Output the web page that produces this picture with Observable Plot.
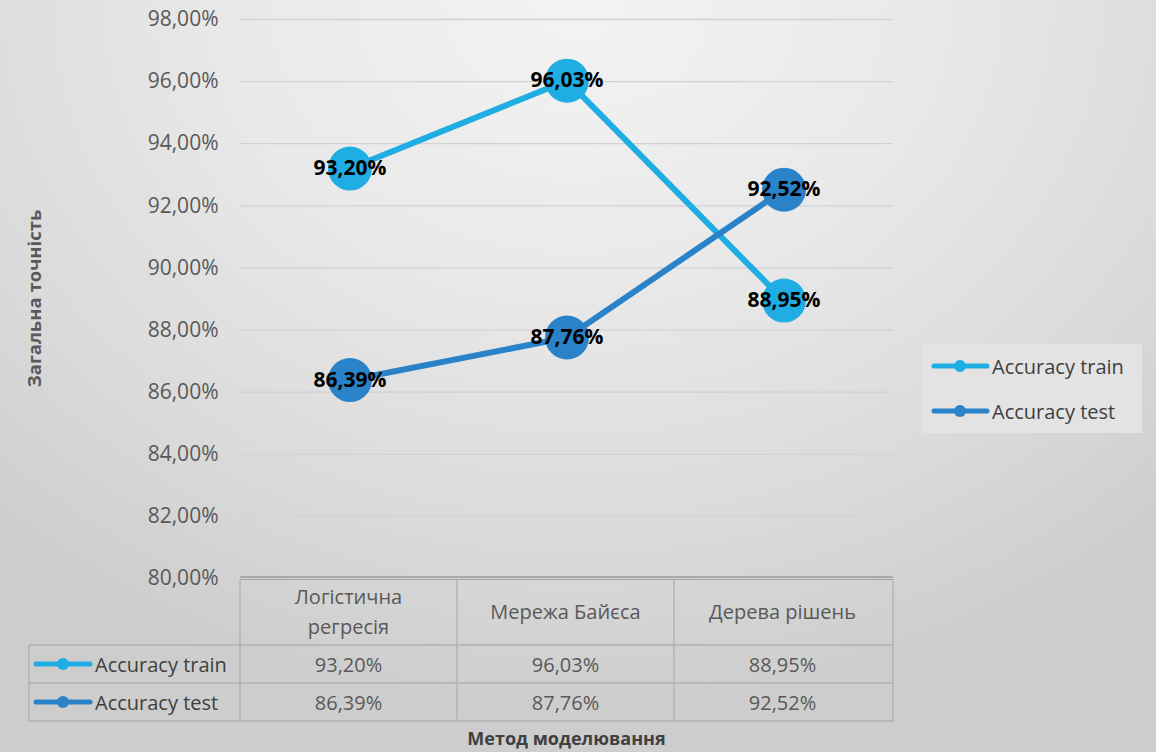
<!DOCTYPE html>
<html>
<head>
<meta charset="utf-8">
<script src="https://cdn.jsdelivr.net/npm/d3@7"></script>
<script src="https://cdn.jsdelivr.net/npm/@observablehq/plot@0.6"></script>
<style>
  html, body { margin: 0; padding: 0; }
  body {
    width: 1156px; height: 752px; overflow: hidden;
    background: radial-gradient(ellipse 75% 95% at 50% 0%, #f3f3f3 0%, #e9e9e9 40%, #dadada 75%, #cdcdcd 100%);
    font-family: "Open Sans", Lato, sans-serif;
  }
</style>
</head>
<body>
<div id="chart"></div>
<script>
const categories = ["Логістична регресія", "Мережа Байєса", "Дерева рішень"];
const categoryLines = [["Логістична", "регресія"], ["Мережа Байєса"], ["Дерева рішень"]];
const seriesNames = ["Accuracy train", "Accuracy test"];
const trainValues = [93.20, 96.03, 88.95];
const testValues = [86.39, 87.76, 92.52];
const yTicks = [80, 82, 84, 86, 88, 90, 92, 94, 96, 98];
const colors = ["#20ade3", "#2a82c8"];
const yTitle = "Загальна точність";
const xTitle = "Метод моделювання";

const fmt = v => v.toFixed(2).replace(".", ",") + "%";
const seriesValues = [trainValues, testValues];
const data = seriesNames.flatMap((s, si) => categories.map((c, ci) => ({series: s, cat: c, value: seriesValues[si][ci]})));

const marks = [
  Plot.ruleY(yTicks.filter(d => d > 80), {stroke: "#d2d2d2", strokeWidth: 1.3})
];
seriesNames.forEach((s, si) => {
  const d = data.filter(r => r.series === s);
  marks.push(Plot.line(d, {x: "cat", y: "value", stroke: colors[si], strokeWidth: 6}));
  marks.push(Plot.dot(d, {x: "cat", y: "value", r: 22, fill: colors[si], stroke: "none"}));
});
seriesNames.forEach((s, si) => {
  const d = data.filter(r => r.series === s);
  marks.push(Plot.text(d, {x: "cat", y: "value", text: r => fmt(r.value), fill: "black", fontWeight: "bold", fontSize: 21}));
});
marks.push(Plot.axisY({ticks: yTicks, tickFormat: fmt, tickSize: 0, tickPadding: 22, fontSize: 21, fill: "#595959", label: null}));

const plot = Plot.plot({
  width: 1156, height: 752,
  marginLeft: 240, marginRight: 263, marginTop: 19, marginBottom: 174,
  style: {background: "transparent", fontFamily: "'Open Sans', Lato, sans-serif", overflow: "visible"},
  x: {type: "band", domain: categories, padding: 0, axis: null},
  y: {domain: [80, 98]},
  marks
});
document.getElementById("chart").appendChild(plot);

// Data table and legend, positioned with the plot's own scales
const xs = plot.scale("x");
const ys = plot.scale("y");
const bw = xs.bandwidth;
const x0 = xs.range[0];
const x1 = xs.range[1];
const colStart = c => x0 + categories.indexOf(c) * bw;
const svg = d3.select(plot);
const g = svg.append("g").attr("font-family", "'Open Sans', Lato, sans-serif").attr("text-anchor", "start");
const yBase = ys.apply(80);
const headerH = 67, rowH = 38;
const leftX = 29;
const gridColor = "#b0b0b0";
const fs = 20;

// baseline (axis) line
g.append("line").attr("x1", x0).attr("x2", x1).attr("y1", yBase - 1).attr("y2", yBase - 1).attr("stroke", "#7f7f7f").attr("stroke-width", 1.2);
g.append("line").attr("x1", x0).attr("x2", x1).attr("y1", yBase + 1.5).attr("y2", yBase + 1.5).attr("stroke", "#a0a0a0").attr("stroke-width", 1.2);

// vertical lines
const vLines = categories.map(colStart).concat([x1]);
vLines.forEach(x => {
  g.append("line").attr("x1", x).attr("x2", x).attr("y1", yBase + 1).attr("y2", yBase + headerH + 2 * rowH).attr("stroke", gridColor).attr("stroke-width", 1.3);
});
g.append("line").attr("x1", leftX).attr("x2", leftX).attr("y1", yBase + headerH).attr("y2", yBase + headerH + 2 * rowH).attr("stroke", gridColor).attr("stroke-width", 1.3);
[0, 1, 2].forEach(i => {
  const y = yBase + headerH + i * rowH;
  g.append("line").attr("x1", leftX).attr("x2", x1).attr("y1", y).attr("y2", y).attr("stroke", gridColor).attr("stroke-width", 1.3);
});

// header text
categories.forEach((c, ci) => {
  const cx = colStart(c) + bw / 2;
  const lines = categoryLines[ci];
  const lh = 30;
  const cy = yBase + headerH / 2;
  lines.forEach((t, li) => {
    g.append("text").attr("x", cx).attr("y", cy + (li - (lines.length - 1) / 2) * lh)
      .attr("text-anchor", "middle").attr("dominant-baseline", "central")
      .attr("font-size", fs).attr("fill", "#595959").text(t);
  });
});

// rows
seriesNames.forEach((s, si) => {
  const cy = yBase + headerH + si * rowH + rowH / 2;
  g.append("line").attr("x1", leftX + 7).attr("x2", leftX + 61).attr("y1", cy).attr("y2", cy).attr("stroke", colors[si]).attr("stroke-width", 5).attr("stroke-linecap", "round");
  g.append("circle").attr("cx", leftX + 34).attr("cy", cy).attr("r", 6).attr("fill", colors[si]);
  g.append("text").attr("x", leftX + 66).attr("y", cy).attr("text-anchor", "start").attr("dominant-baseline", "central").attr("font-size", fs).attr("fill", "#404040").text(s);
  categories.forEach((c, ci) => {
    g.append("text").attr("x", colStart(c) + bw / 2).attr("y", cy).attr("text-anchor", "middle").attr("dominant-baseline", "central")
      .attr("font-size", fs).attr("fill", "#595959").text(fmt(seriesValues[si][ci]));
  });
});

// axis titles
g.append("text").attr("transform", `translate(33,${(ys.apply(98) + yBase) / 2}) rotate(-90)`)
  .attr("text-anchor", "middle").attr("dominant-baseline", "central")
  .attr("font-size", 18.5).attr("font-weight", "bold").attr("fill", "#595959").text(yTitle);
g.append("text").attr("x", (x0 + x1) / 2).attr("y", 738).attr("text-anchor", "middle").attr("dominant-baseline", "central")
  .attr("font-size", 18).attr("font-weight", "bold").attr("fill", "#404040").text(xTitle);

// legend
const lg = g.append("g");
lg.append("rect").attr("x", 922).attr("y", 344).attr("width", 220).attr("height", 89).attr("fill", "#e3e3e3");
seriesNames.forEach((s, si) => {
  const cy = 366 + si * 45;
  lg.append("line").attr("x1", 934).attr("x2", 987).attr("y1", cy).attr("y2", cy).attr("stroke", colors[si]).attr("stroke-width", 5).attr("stroke-linecap", "round");
  lg.append("circle").attr("cx", 960).attr("cy", cy).attr("r", 6).attr("fill", colors[si]);
  lg.append("text").attr("x", 992).attr("y", cy).attr("text-anchor", "start").attr("dominant-baseline", "central").attr("font-size", fs).attr("fill", "#404040").text(s);
});
</script>
</body>
</html>
